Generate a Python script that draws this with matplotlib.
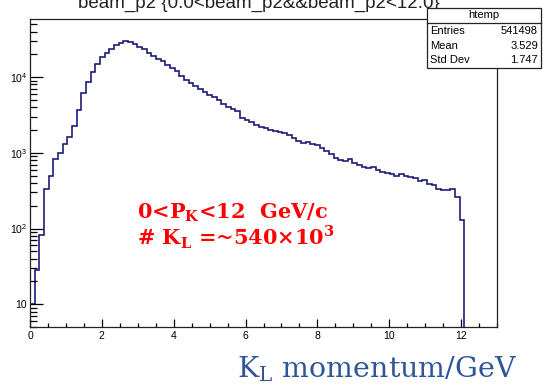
import numpy as np
import matplotlib
matplotlib.use("Agg")
import matplotlib.pyplot as plt
from matplotlib.ticker import FixedLocator, LogLocator, NullFormatter, MultipleLocator

# Histogram of K_L momentum: 100 bins over 0-13 GeV, only the first 93 are filled
n_bins = 100
x_lo, x_hi = 0.0, 13.0
counts = [
    10, 28, 83, 333, 500, 830, 1000, 1310, 1600, 2240,
    3660, 6210, 8690, 11800, 15000, 18600, 21000, 23800, 26300, 28600,
    30000, 29400, 27700, 25300, 23300, 21000, 19000, 17100, 16390, 14290,
    13040, 11900, 10210, 9040, 8250, 7530, 6870, 6270, 5810, 5380,
    4910, 4350, 4030, 3790, 3570, 2880, 2710, 2550, 2360, 2220,
    2120, 2030, 1940, 1880, 1800, 1740, 1590, 1450, 1340, 1370,
    1300, 1250, 1170, 1070, 976, 864, 800, 788, 838, 742,
    698, 656, 637, 640, 599, 564, 547, 530, 499, 530,
    499, 484, 462, 422, 442, 391, 373, 336, 325, 321,
    331, 259, 130,
]

stats_title = "htemp"
stats_names = ["Entries", "Mean", "Std Dev"]
stats_values = ["541498", "3.529", "1.747"]

title = "beam_p2 {0.0<beam_p2&&beam_p2<12.0}"
y_min, y_max = 5, 5.8e4
x_major = [0, 2, 4, 6, 8, 10, 12]
y_major = [10, 100, 1000, 10000]
y_major_labels = ["10", r"$\mathregular{10^{2}}$", r"$\mathregular{10^{3}}$", r"$\mathregular{10^{4}}$"]

W, H = 543, 388
fig = plt.figure(figsize=(W / 100, H / 100), dpi=100)
fig.patch.set_facecolor("white")

def px(x, y):
    return x / W, 1 - y / H

ax = fig.add_axes([30 / W, 1 - 327 / H, 467 / W, (327 - 19.3) / H])

edges = np.linspace(x_lo, x_hi, n_bins + 1)[: len(counts) + 1]
ax.stairs(counts, edges, baseline=y_min, color="#1c1c78", linewidth=1.2)

ax.set_yscale("log")
ax.set_xlim(x_lo, x_hi)
ax.set_ylim(y_min, y_max)

ax.xaxis.set_major_locator(FixedLocator(x_major))
ax.xaxis.set_minor_locator(MultipleLocator(0.5))
ax.set_xticklabels([str(v) for v in x_major])
ax.yaxis.set_major_locator(FixedLocator(y_major))
ax.set_yticklabels(y_major_labels)
ax.yaxis.set_minor_locator(LogLocator(base=10, subs=np.arange(2, 10)))
ax.yaxis.set_minor_formatter(NullFormatter())

tick_font = "Liberation Sans"
for lab in ax.get_xticklabels() + ax.get_yticklabels():
    lab.set_fontfamily(tick_font)
    lab.set_fontsize(7.5)

ax.tick_params(axis="x", which="major", direction="in", length=6, width=0.9, pad=3)
ax.tick_params(axis="x", which="minor", direction="in", length=2.8, width=0.9)
ax.tick_params(axis="y", which="major", direction="in", length=9.4, width=0.9, pad=2)
ax.tick_params(axis="y", which="minor", direction="in", length=5, width=0.9)
for s in ax.spines.values():
    s.set_linewidth(0.9)
    s.set_color("#222222")

# Title, partly above the canvas edge
fig.text(*px(259, 8), title, ha="center", va="baseline",
         fontfamily=tick_font, fontsize=13.5, color="#222222")

# Statistics box
bx0, by0, bx1, by1 = 427, 8, 541, 68
box = plt.Rectangle(px(bx0, by1), (bx1 - bx0) / W, (by1 - by0) / H,
                    transform=fig.transFigure, facecolor="white",
                    edgecolor="#222222", linewidth=0.9, zorder=5)
fig.add_artist(box)
fig.add_artist(plt.Line2D([bx0 / W, bx1 / W], [1 - 22.7 / H] * 2,
                          transform=fig.transFigure, color="#222222",
                          linewidth=0.9, zorder=6))
fig.text(*px((bx0 + bx1) / 2, 18.5), stats_title, ha="center", va="baseline",
         fontfamily=tick_font, fontsize=8, zorder=7)
for i, (name, val) in enumerate(zip(stats_names, stats_values)):
    yb = 34.3 + 14.5 * i
    fig.text(*px(430, yb), name, ha="left", va="baseline",
             fontfamily=tick_font, fontsize=8, zorder=7)
    fig.text(*px(538, yb), val, ha="right", va="baseline",
             fontfamily=tick_font, fontsize=8, zorder=7)

# Annotation in red
red_font = dict(fontfamily="DejaVu Serif", fontweight="bold", color="red", fontsize=15)
fig.text(*px(137, 218), r"0<P$_\mathregular{K}$<12  GeV/c", ha="left", va="baseline", **red_font)
fig.text(*px(137, 245), r"# K$_\mathregular{L}$ =~540×10$^\mathregular{3}$", ha="left", va="baseline", **red_font)

# Axis caption
fig.text(*px(237, 377), r"K$_\mathregular{L}$ momentum/GeV", ha="left", va="baseline",
         fontfamily="DejaVu Serif", fontsize=20.5, color="#2E5597")

fig.savefig("out.png", dpi=100)
